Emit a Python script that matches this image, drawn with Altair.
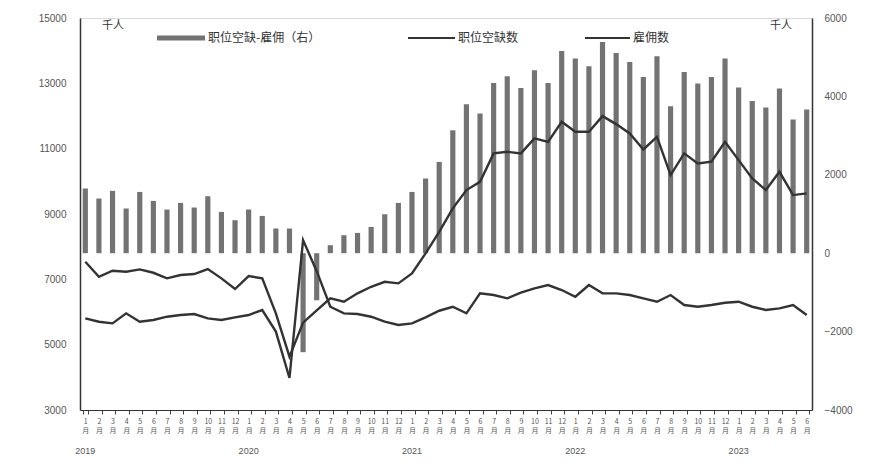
import altair as alt
import pandas as pd

months = [f"{y}-{m:02d}" for y in range(2019, 2024) for m in range(1, 13)][:54]

# 职位空缺数 (千人, left axis)
vac = [7538, 7079, 7263, 7232, 7305, 7201, 7030, 7131, 7162, 7315, 7030, 6703,
       7100, 7030, 5959, 4631, 5675, 6050, 6418, 6314, 6571, 6773, 6926, 6877,
       7183, 7795, 8456, 9172, 9732, 9986, 10855, 10904, 10855, 11314, 11210, 11822,
       11516, 11516, 11996, 11752, 11467, 10977, 11364, 10191, 10855, 10549, 10600, 11212,
       10650, 10090, 9732, 10292, 9579, 9630]
# 雇佣数 (千人, left axis)
hires = [5806, 5703, 5652, 5959, 5703, 5755, 5856, 5907, 5938, 5806, 5755, 5836,
         5907, 6060, 5400, 3980, 8200, 7250, 6161, 5959, 5938, 5856, 5703, 5601,
         5652, 5836, 6039, 6161, 5959, 6571, 6519, 6418, 6590, 6724, 6825, 6672,
         6467, 6825, 6571, 6571, 6519, 6418, 6314, 6519, 6213, 6161, 6213, 6283,
         6314, 6161, 6060, 6112, 6213, 5907]
# 职位空缺-雇佣 (千人, right axis)
gap = [1650, 1395, 1590, 1140, 1563, 1334, 1114, 1283, 1165, 1453, 1053, 842,
       1114, 951, 630, 630, -2525, -1200, 204, 459, 518, 671, 994, 1283,
       1563, 1905, 2328, 3136, 3800, 3562, 4343, 4514, 4216, 4667, 4343, 5159,
       4964, 4768, 5389, 5108, 4878, 4496, 5023, 3748, 4624, 4326, 4496, 4964,
       4224, 3884, 3715, 4199, 3409, 3664]

year_months = ["2019-01", "2020-01", "2021-01", "2022-01", "2023-01"]
year_labels = ["2019", "2020", "2021", "2022", "2023"]

left_ticks = [3000, 5000, 7000, 9000, 11000, 13000, 15000]
right_ticks = [-4000, -2000, 0, 2000, 4000, 6000]

FONT = "Noto Sans CJK SC"
BAR_C = "#737373"
LINE_C = "#333333"

df = pd.DataFrame({"month": months, "gap": gap})
lines_df = pd.DataFrame({
    "month": months * 2,
    "value": vac + hires,
    "series": ["职位空缺数"] * len(vac) + ["雇佣数"] * len(hires),
})
years_df = pd.DataFrame({"month": year_months, "year": year_labels})

xscale = alt.Scale(paddingInner=0.62, paddingOuter=0.2)
xaxis = alt.Axis(
    title=None,
    labelExpr="isString(datum.value) ? [toNumber(substring(datum.value, 5, 7)) + '', '月'] : ''",
    labelAngle=0,
    labelFontSize=7,
    labelLineHeight=9,
    labelColor="#555",
    labelPadding=3,
    tickBand="extent",
    tickSize=4,
    tickColor="#444",
    domainColor="#333",
    labelFont=FONT,
    labelOverlap=False,
)

bars = alt.Chart(df).mark_bar(color=BAR_C).encode(
    x=alt.X("month:O", scale=xscale, axis=xaxis),
    y=alt.Y(
        "gap:Q",
        scale=alt.Scale(domain=[-4000, 6000], nice=False, zero=False),
        axis=alt.Axis(
            orient="right", title=None, values=right_ticks, format="d",
            grid=False, ticks=False, labelPadding=12, labelFontSize=10,
            labelColor="#555", domainColor="#333", domainWidth=1.5,
            labelFont="Liberation Sans",
        ),
    ),
)

lines = alt.Chart(lines_df).mark_line(color=LINE_C, strokeWidth=2.4).encode(
    x=alt.X("month:O", scale=xscale, axis=xaxis),
    y=alt.Y(
        "value:Q",
        scale=alt.Scale(domain=[3000, 15000], nice=False, zero=False),
        axis=alt.Axis(
            orient="left", title=None, values=left_ticks, format="d",
            grid=False, ticks=False, labelPadding=14, labelFontSize=10,
            labelColor="#555", domainColor="#333", domainWidth=1.5,
            labelFont="Liberation Sans",
        ),
    ),
    detail="series:N",
)

one = pd.DataFrame({"k": [0]})

years = alt.Chart(years_df).mark_text(
    fontSize=9, color="#555", font="Liberation Sans", baseline="middle"
).encode(
    x=alt.X("month:O", scale=xscale, axis=xaxis),
    y=alt.value(433),
    text="year:N",
)

def legend_rule(x1, x2, color, width):
    return alt.Chart(one).mark_rule(color=color, strokeWidth=width).encode(
        x=alt.value(x1), x2=alt.value(x2), y=alt.value(20)
    )

def label(x, y, txt, align="left", size=12):
    return alt.Chart(one).mark_text(
        align=align, baseline="middle", fontSize=size, color="#333", font=FONT
    ).encode(x=alt.value(x), y=alt.value(y), text=alt.value(txt))

deco = [
    legend_rule(77, 125, BAR_C, 5),
    label(128, 20, "职位空缺-雇佣（右）"),
    legend_rule(328, 375, LINE_C, 2),
    label(378, 20, "职位空缺数"),
    legend_rule(505, 550, LINE_C, 2),
    label(553, 20, "雇佣数"),
    label(22, 8, "千人", size=11),
    label(690, 8, "千人", size=11),
]

chart = alt.layer(bars, lines, years, *deco).resolve_scale(y="independent").properties(
    width=732,
    height=392,
    autosize=alt.AutoSizeParams(type="none"),
    padding={"left": 72, "top": 10, "right": 57, "bottom": 46},
).configure_view(stroke=None).configure(background="white")

chart.save("out.html", embed_options={"renderer": "svg", "actions": False})
